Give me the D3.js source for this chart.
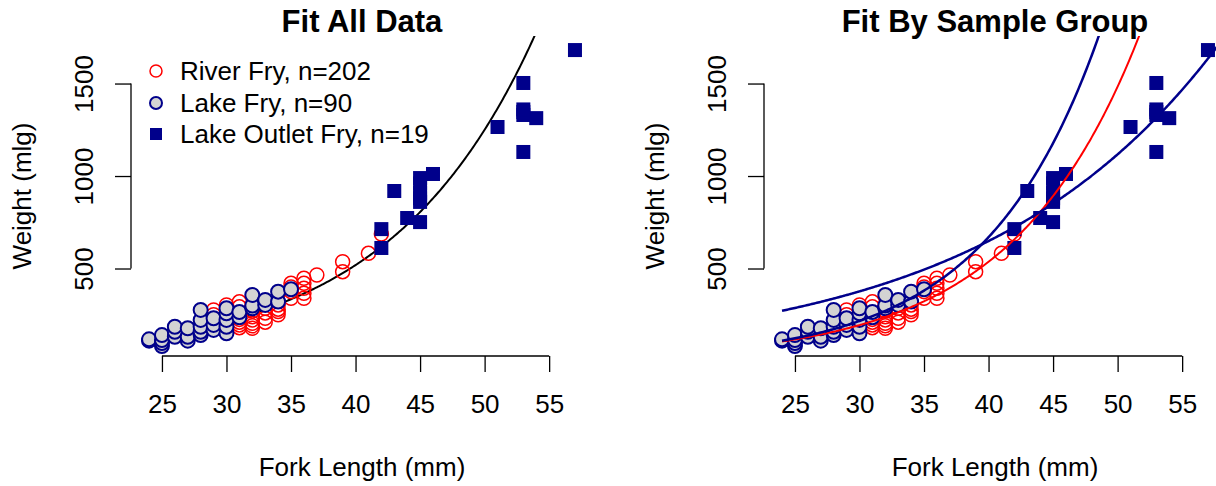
<!DOCTYPE html>
<html>
<head>
<meta charset="utf-8">
<script src="https://cdn.jsdelivr.net/npm/d3@7"></script>
<style>
  body { margin: 0; background: #fff; }
  svg { display: block; font-family: "Liberation Sans", Arial, sans-serif; }
</style>
</head>
<body>
<div class="canvas"></div>
<script>
// fork length (mm) / weight (mlg) pairs
const riverFry = [
  [29, 276], [29, 250], [29, 230],
  [30, 303], [30, 276], [30, 250], [30, 230], [30, 210], [30, 200],
  [31, 320], [31, 293], [31, 258], [31, 240], [31, 225], [31, 210], [31, 195], [31, 180],
  [32, 300], [32, 270], [32, 239], [32, 222], [32, 204], [32, 190], [32, 177],
  [33, 285], [33, 260], [33, 231], [33, 210],
  [34, 303], [34, 280], [34, 267], [34, 250],
  [35, 420], [35, 400], [35, 375], [35, 339],
  [36, 447], [36, 420], [36, 393], [36, 366], [36, 339],
  [37, 465], [39, 537], [39, 483], [41, 582], [42, 686]
];
const lakeFry = [
  [24, 110], [24, 117],
  [25, 81], [25, 97], [25, 113], [25, 140],
  [26, 131], [26, 158], [26, 185],
  [27, 110], [27, 131], [27, 177],
  [28, 140], [28, 158], [28, 185], [28, 222], [28, 276],
  [29, 168], [29, 195], [29, 231],
  [30, 150], [30, 185], [30, 222], [30, 258], [30, 285],
  [31, 236], [31, 265],
  [32, 285], [32, 300], [32, 357],
  [33, 303], [33, 330],
  [34, 321], [34, 375],
  [35, 388]
];
const outletFry = [
  [42, 611], [42, 713], [43, 919], [44, 773], [45, 751], [45, 860], [45, 880],
  [45, 908], [45, 960], [45, 989], [46, 1011], [51, 1265], [53, 1130], [53, 1330],
  [53, 1346], [53, 1360], [53, 1503], [54, 1313], [57, 1681]
];
const legendLabels = ['River Fry, n=202', 'Lake Fry, n=90', 'Lake Outlet Fry, n=19'];
const xTicks = [25, 30, 35, 40, 45, 50, 55];
const yTicks = [500, 1000, 1500];
// exponential fits W = a * exp(b * L)
const fitAll = [15.35, 0.088];
const fitRiver = [9.18, 0.1017];
const fitLake = [7.29, 0.113];
const fitOutlet = [73.6, 0.0544];

const red = '#ff0000', navy = '#00008b', grey = '#d3d3d3';

const svg = d3.select('.canvas')
  .append('svg')
    .attr('width', 1216)
    .attr('height', 486);

svg.append('rect').attr('width', 1216).attr('height', 486).attr('fill', '#fff');

const drawPanel = (off, title, fits, curvesOnTop, showLegend, id) => {
  const x = d3.scaleLinear().domain([22.68, 58.32]).range([132 + off, 592 + off]);
  const y = d3.scaleLinear().domain([27, 1757]).range([356, 36]);
  const cx = 362 + off;

  svg.append('clipPath').attr('id', id)
    .append('rect')
      .attr('x', x.range()[0]).attr('y', 36)
      .attr('width', x.range()[1] - x.range()[0]).attr('height', 320);

  const g = svg.append('g');

  // title
  g.append('text')
    .attr('x', cx).attr('y', 32)
    .attr('text-anchor', 'middle')
    .attr('font-size', 31).attr('font-weight', 'bold')
    .text(title);

  // x axis
  const xAxisGroup = g.append('g')
    .attr('transform', 'translate(0, 356)')
    .call(d3.axisBottom(x).tickValues(xTicks).tickSize(16).tickPadding(23));
  xAxisGroup.select('.domain').remove();
  xAxisGroup.append('line')
    .attr('x1', x(xTicks[0])).attr('x2', x(xTicks[xTicks.length - 1]))
    .attr('stroke', '#000');
  xAxisGroup.selectAll('text').attr('font-size', 26).attr('fill', '#000')
    .attr('font-family', '"Liberation Sans", Arial, sans-serif');
  xAxisGroup.selectAll('line').attr('stroke', '#000').attr('stroke-width', 1.3);

  // y axis
  const yAxisGroup = g.append('g')
    .attr('transform', `translate(${x.range()[0] - 1}, 0)`)
    .call(d3.axisLeft(y).tickValues(yTicks).tickSize(16).tickFormat(d3.format('d')));
  yAxisGroup.select('.domain').remove();
  yAxisGroup.append('line')
    .attr('y1', y(yTicks[0])).attr('y2', y(yTicks[yTicks.length - 1]))
    .attr('stroke', '#000');
  yAxisGroup.selectAll('line').attr('stroke', '#000').attr('stroke-width', 1.3);
  yAxisGroup.selectAll('text')
    .attr('x', null).attr('dy', null)
    .attr('transform', 'translate(-38, 0) rotate(-90)')
    .attr('text-anchor', 'middle')
    .attr('font-size', 26).attr('fill', '#000')
    .attr('font-family', '"Liberation Sans", Arial, sans-serif');

  // axis labels
  g.append('text')
    .attr('x', cx).attr('y', 476)
    .attr('text-anchor', 'middle').attr('font-size', 26)
    .text('Fork Length (mm)');
  g.append('text')
    .attr('transform', `translate(${31 + off}, 196) rotate(-90)`)
    .attr('text-anchor', 'middle').attr('font-size', 26)
    .text('Weight (mlg)');

  const line = d3.line().x(d => x(d[0])).y(d => y(d[1]));
  const drawCurves = () => {
    const cg = g.append('g').attr('clip-path', `url(#${id})`);
    fits.forEach(f => {
      const pts = d3.range(24, 58.4, 0.1).map(L => [L, f.p[0] * Math.exp(f.p[1] * L)]);
      cg.append('path')
        .attr('d', line(pts))
        .attr('fill', 'none')
        .attr('stroke', f.color)
        .attr('stroke-width', f.w);
    });
  };

  if (!curvesOnTop) drawCurves();

  g.append('g').selectAll('circle')
    .data(riverFry)
    .enter().append('circle')
      .attr('cx', d => x(d[0])).attr('cy', d => y(d[1]))
      .attr('r', 7)
      .attr('fill', 'none').attr('stroke', red).attr('stroke-width', 1.5);

  g.append('g').selectAll('circle')
    .data(lakeFry)
    .enter().append('circle')
      .attr('cx', d => x(d[0])).attr('cy', d => y(d[1]))
      .attr('r', 7)
      .attr('fill', grey).attr('stroke', navy).attr('stroke-width', 2);

  g.append('g').selectAll('rect')
    .data(outletFry)
    .enter().append('rect')
      .attr('x', d => x(d[0]) - 7).attr('y', d => y(d[1]) - 7)
      .attr('width', 14).attr('height', 14)
      .attr('fill', navy);

  if (curvesOnTop) drawCurves();

  if (showLegend) {
    const lg = g.append('g');
    const rows = [71, 103, 134];
    lg.append('circle').attr('cx', 156 + off).attr('cy', rows[0]).attr('r', 6)
      .attr('fill', 'none').attr('stroke', red).attr('stroke-width', 1.5);
    lg.append('circle').attr('cx', 156 + off).attr('cy', rows[1]).attr('r', 6)
      .attr('fill', grey).attr('stroke', navy).attr('stroke-width', 2);
    lg.append('rect').attr('x', 150 + off).attr('y', rows[2] - 6)
      .attr('width', 12).attr('height', 12).attr('fill', navy);
    lg.selectAll('text')
      .data(legendLabels)
      .enter().append('text')
        .attr('x', 180 + off).attr('y', (d, i) => rows[i] + 9)
        .attr('font-size', 26)
        .text(d => d);
  }
};

drawPanel(0, 'Fit All Data',
  [{p: fitAll, color: '#000', w: 2}], false, true, 'clipA');
drawPanel(633, 'Fit By Sample Group',
  [{p: fitRiver, color: red, w: 2}, {p: fitLake, color: navy, w: 2.5}, {p: fitOutlet, color: navy, w: 2.5}],
  true, false, 'clipB');
</script>
</body>
</html>
